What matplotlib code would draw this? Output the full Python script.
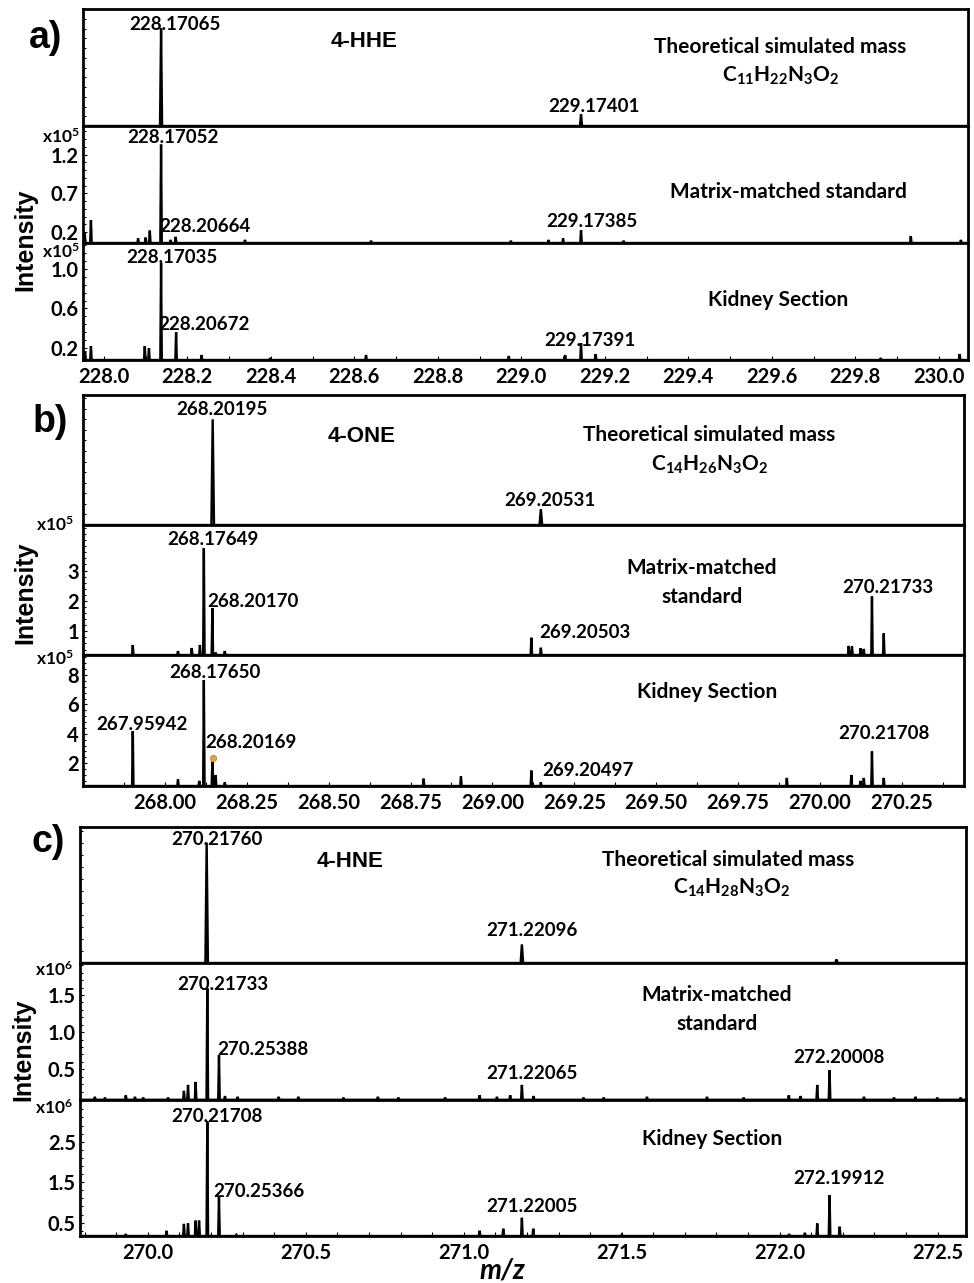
import numpy as np
import matplotlib
matplotlib.use("Agg")
import matplotlib.pyplot as plt
from matplotlib.ticker import AutoMinorLocator, FixedLocator

plt.rcParams['font.family'] = ['Lato', 'DejaVu Sans']
plt.rcParams['font.weight'] = 'bold'
plt.rcParams['mathtext.fontset'] = 'custom'
plt.rcParams['mathtext.rm'] = 'Lato:bold'
plt.rcParams['mathtext.bf'] = 'Lato:bold'
plt.rcParams['mathtext.it'] = 'Lato:bold:italic'

W, H = 974, 1283
fig = plt.figure(figsize=(W / 100, H / 100), dpi=100)

# ---------------- data ----------------
# Panel a (4-HHE)
a_theo_mz = [228.137, 229.143]
a_theo_int = [100, 12]
a_mat_mz = [227.954, 227.969, 228.082, 228.100, 228.110, 228.137, 228.160, 228.172, 228.338,
            228.640, 228.975, 229.065, 229.100, 229.143, 229.245, 229.933, 230.053]
a_mat_int = [0.20, 0.355, 0.12, 0.13, 0.22, 1.33, 0.10, 0.14, 0.10,
             0.09, 0.09, 0.10, 0.12, 0.225, 0.09, 0.15, 0.10]
a_kid_mz = [227.955, 227.969, 228.098, 228.108, 228.137, 228.173, 228.234, 228.398, 228.628,
            228.970, 229.105, 229.143, 229.178, 229.861, 230.050]
a_kid_int = [0.17, 0.22, 0.22, 0.20, 1.06, 0.36, 0.13, 0.10, 0.13,
             0.12, 0.13, 0.25, 0.14, 0.10, 0.14]

# Panel b (4-ONE)
b_theo_mz = [268.146, 269.148]
b_theo_int = [100, 15]
b_mat_mz = [267.902, 268.040, 268.082, 268.107, 268.119, 268.145, 268.155, 268.183,
            269.119, 269.148, 270.088, 270.098, 270.124, 270.134, 270.159, 270.195]
b_mat_int = [0.55, 0.35, 0.45, 0.55, 3.74, 1.76, 0.30, 0.35,
             0.79, 0.46, 0.52, 0.50, 0.44, 0.42, 2.15, 0.93]
b_kid_mz = [267.902, 268.040, 268.105, 268.119, 268.145, 268.155, 268.183, 268.790, 268.904,
            269.119, 269.148, 269.899, 270.096, 270.124, 270.134, 270.159, 270.195]
b_kid_int = [4.18, 0.90, 0.80, 7.66, 2.10, 1.20, 0.70, 0.95, 1.10,
             1.50, 0.70, 1.00, 1.20, 0.80, 1.00, 2.80, 1.00]
b_marker = (268.146, 2.35)

# Panel c (4-HNE)
c_theo_mz = [270.186, 271.184, 272.180]
c_theo_int = [100, 15.5, 3]
c_mat_mz = [269.832, 269.864, 269.930, 269.959, 269.985, 270.064, 270.114, 270.127, 270.151,
            270.188, 270.225, 270.244, 270.284, 270.414, 270.476, 270.619, 270.728, 270.793,
            270.941, 271.050, 271.105, 271.147, 271.184, 271.221, 271.379, 271.443, 271.580,
            271.770, 271.886, 272.029, 272.066, 272.119, 272.158, 272.267, 272.362, 272.430,
            272.499, 272.573]
c_mat_int = [0.13, 0.12, 0.15, 0.13, 0.12, 0.12, 0.21, 0.29, 0.33,
             1.59, 0.69, 0.14, 0.13, 0.13, 0.13, 0.12, 0.13, 0.12,
             0.12, 0.15, 0.13, 0.15, 0.29, 0.14, 0.12, 0.12, 0.13,
             0.13, 0.12, 0.15, 0.14, 0.29, 0.49, 0.13, 0.12, 0.13,
             0.12, 0.12]
c_kid_mz = [269.930, 270.059, 270.114, 270.127, 270.151, 270.162, 270.188, 270.225, 270.280,
            271.050, 271.125, 271.184, 271.220, 271.500, 272.030, 272.080, 272.119, 272.158,
            272.190]
c_kid_int = [0.22, 0.30, 0.47, 0.48, 0.55, 0.55, 3.00, 1.14, 0.20,
             0.30, 0.35, 0.62, 0.35, 0.20, 0.22, 0.25, 0.48, 1.18,
             0.40]

NUM = 13.5      # peak label size
NAME = 15       # sample name size
TICK = 14.5     # tick label size


# ---------------- helpers ----------------
def px_axes(left, top, right, bottom):
    return fig.add_axes([left / W, 1 - bottom / H, (right - left) / W, (bottom - top) / H])


def profile(ax, mz, inten, base, xlim, w):
    order = np.argsort(mz)
    xs = [xlim[0]]
    ys = [base]
    for i in order:
        xs += [mz[i] - w, mz[i], mz[i] + w]
        ys += [base, inten[i], base]
    xs.append(xlim[1])
    ys.append(base)
    ax.plot(xs, ys, color='black', lw=1.7, solid_joinstyle='miter')


def style(ax, xlim, ylim, xticks=None, xfmt='{:.1f}', yticks=None, yfmt='{:.1f}'):
    ax.set_xlim(*xlim)
    ax.set_ylim(*ylim)
    for s in ax.spines.values():
        s.set_linewidth(2.0)
    ax.tick_params(axis='both', which='both', direction='in', length=3, width=0.8,
                   labelsize=TICK, pad=3)
    ax.tick_params(axis='x', which='both', pad=5)
    ax.tick_params(axis='y', which='minor', length=2.5)
    ax.tick_params(top=False, right=False)
    if xticks is not None:
        ax.xaxis.set_major_locator(FixedLocator(xticks))
        ax.set_xticklabels([xfmt.format(t) for t in xticks], fontweight='bold')
        ax.xaxis.set_minor_locator(AutoMinorLocator(2))
    else:
        ax.xaxis.set_minor_locator(AutoMinorLocator(2))
        ax.tick_params(axis='x', which='both', labelbottom=False, length=0)
    if yticks is not None:
        ax.yaxis.set_major_locator(FixedLocator(yticks))
        ax.set_yticklabels([yfmt.format(t) for t in yticks], fontweight='bold')
    else:
        ax.set_yticks([])
    ax.yaxis.set_minor_locator(AutoMinorLocator(5))


def lab(ax, x, yf, s, size=NUM, family=None, **kw):
    kws = dict(transform=ax.get_xaxis_transform(), ha='center', va='center',
               fontsize=size, fontweight='bold')
    if family:
        kws['family'] = family
    kws.update(kw)
    ax.text(x, yf, s, **kws)


def sci(xr, y, p):
    fig.text(xr / W, 1 - y / H, 'x10$^{\\mathbf{' + p + '}}$', ha='right', va='center',
             fontsize=12.5, fontweight='bold')


ARIAL = ['Liberation Sans', 'DejaVu Sans']

# ---------------- panel a ----------------
xa = (227.95, 230.07)
a_ticks = [228.0, 228.2, 228.4, 228.6, 228.8, 229.0, 229.2, 229.4, 229.6, 229.8, 230.0]
ax = px_axes(83, 9, 968, 126)
profile(ax, a_theo_mz, a_theo_int, 0, xa, 0.0025)
style(ax, xa, (0, 120))
ax.yaxis.set_minor_locator(FixedLocator(np.linspace(0, 120, 13)))
lab(ax, 228.170, 0.87, '228.17065')
lab(ax, 228.624, 0.72, '4-HHE', size=16, family=ARIAL)
lab(ax, 229.621, 0.675, 'Theoretical simulated mass', size=NAME)
lab(ax, 229.621, 0.43, 'C$_{\\mathbf{11}}$H$_{\\mathbf{22}}$N$_{\\mathbf{3}}$O$_{\\mathbf{2}}$', size=NAME)
lab(ax, 229.173, 0.17, '229.17401')

ax = px_axes(83, 126, 968, 243)
profile(ax, a_mat_mz, a_mat_int, 0.06, xa, 0.0018)
style(ax, xa, (0.06, 1.57), yticks=[0.2, 0.7, 1.2])
lab(ax, 228.165, 0.90, '228.17052')
lab(ax, 228.242, 0.14, '228.20664')
lab(ax, 229.640, 0.44, 'Matrix-matched standard', size=NAME)
lab(ax, 229.170, 0.18, '229.17385')
sci(80, 137, '5')

ax = px_axes(83, 243, 968, 360)
profile(ax, a_kid_mz, a_kid_int, 0.08, xa, 0.0018)
style(ax, xa, (0.08, 1.26), xticks=a_ticks, yticks=[0.2, 0.6, 1.0])
lab(ax, 228.163, 0.88, '228.17035')
lab(ax, 228.240, 0.30, '228.20672')
lab(ax, 229.616, 0.51, 'Kidney Section', size=NAME)
lab(ax, 229.165, 0.17, '229.17391')
sci(80, 252, '5')

# ---------------- panel b ----------------
xb = (267.75, 270.44)
b_ticks = [268.00, 268.25, 268.50, 268.75, 269.00, 269.25, 269.50, 269.75, 270.00, 270.25]
ax = px_axes(83, 395, 964, 525)
profile(ax, b_theo_mz, b_theo_int, 0, xb, 0.004)
style(ax, xb, (0, 123))
ax.yaxis.set_minor_locator(FixedLocator(np.linspace(0, 120, 13)))
lab(ax, 268.174, 0.89, '268.20195')
lab(ax, 268.601, 0.68, '4-ONE', size=16, family=ARIAL)
lab(ax, 269.662, 0.69, 'Theoretical simulated mass', size=NAME)
lab(ax, 269.662, 0.46, 'C$_{\\mathbf{14}}$H$_{\\mathbf{26}}$N$_{\\mathbf{3}}$O$_{\\mathbf{2}}$', size=NAME)
lab(ax, 269.176, 0.19, '269.20531')

ax = px_axes(83, 525, 964, 655)
profile(ax, b_mat_mz, b_mat_int, 0.22, xb, 0.0022)
style(ax, xb, (0.22, 4.5), yticks=[1, 2, 3], yfmt='{:.0f}')
lab(ax, 268.146, 0.89, '268.17649')
lab(ax, 268.268, 0.41, '268.20170')
lab(ax, 269.639, 0.56, 'Matrix-matched\nstandard', size=NAME, linespacing=1.55)
lab(ax, 270.207, 0.52, '270.21733')
lab(ax, 269.283, 0.17, '269.20503')
sci(74, 525, '5')

ax = px_axes(83, 655, 964, 786)
profile(ax, b_kid_mz, b_kid_int, 0.45, xb, 0.0022)
style(ax, xb, (0.45, 9.36), xticks=b_ticks, xfmt='{:.2f}', yticks=[2, 4, 6, 8], yfmt='{:.0f}')
ax.plot([b_marker[0]], [b_marker[1]], 'o', color='#E3A145', markersize=4.5,
        markeredgecolor='#C8843A', markeredgewidth=0.6)
lab(ax, 268.152, 0.87, '268.17650')
lab(ax, 267.930, 0.47, '267.95942')
lab(ax, 268.264, 0.33, '268.20169')
lab(ax, 269.655, 0.72, 'Kidney Section', size=NAME)
lab(ax, 270.195, 0.40, '270.21708')
lab(ax, 269.293, 0.12, '269.20497')
sci(74, 659, '5')

# ---------------- panel c ----------------
xc = (269.785, 272.59)
c_ticks = [270.0, 270.5, 271.0, 271.5, 272.0, 272.5]
ax = px_axes(80, 827, 966, 963)
profile(ax, c_theo_mz, c_theo_int, 0, xc, 0.004)
style(ax, xc, (0, 113))
ax.yaxis.set_minor_locator(FixedLocator(np.linspace(0, 110, 12)))
lab(ax, 270.219, 0.91, '270.21760')
lab(ax, 270.640, 0.745, '4-HNE', size=16, family=ARIAL)
lab(ax, 271.838, 0.76, 'Theoretical simulated mass', size=NAME)
lab(ax, 271.849, 0.55, 'C$_{\\mathbf{14}}$H$_{\\mathbf{28}}$N$_{\\mathbf{3}}$O$_{\\mathbf{2}}$', size=NAME)
lab(ax, 271.216, 0.24, '271.22096')

ax = px_axes(80, 963, 966, 1100)
profile(ax, c_mat_mz, c_mat_int, 0.09, xc, 0.0025)
style(ax, xc, (0.087, 1.93), yticks=[0.5, 1.0, 1.5])
lab(ax, 270.238, 0.84, '270.21733')
lab(ax, 270.364, 0.37, '270.25388')
lab(ax, 271.802, 0.66, 'Matrix-matched\nstandard', size=NAME, linespacing=1.55)
lab(ax, 271.217, 0.19, '271.22065')
lab(ax, 272.189, 0.31, '272.20008')
sci(73, 970, '6')

ax = px_axes(80, 1100, 966, 1236)
profile(ax, c_kid_mz, c_kid_int, 0.17, xc, 0.0025)
style(ax, xc, (0.17, 3.53), xticks=c_ticks, yticks=[0.5, 1.5, 2.5])
ax.xaxis.set_minor_locator(AutoMinorLocator(5))
lab(ax, 270.219, 0.875, '270.21708')
lab(ax, 270.352, 0.33, '270.25366')
lab(ax, 271.786, 0.71, 'Kidney Section', size=NAME)
lab(ax, 271.216, 0.22, '271.22005')
lab(ax, 272.189, 0.425, '272.19912')
sci(73, 1108, '6')

# ---------------- figure texts ----------------
for (x, y) in [(25, 240), (25, 593), (23, 1050)]:
    fig.text(x / W, 1 - y / H, 'Intensity', rotation=90, ha='center', va='center',
             fontsize=18, fontweight='bold', family=ARIAL)
for (x, y, s) in [(46, 38, 'a)'), (50, 422, 'b)'), (48, 842, 'c)')]:
    fig.text(x / W, 1 - y / H, s, ha='center', va='center', fontsize=27,
             fontweight='bold', family=ARIAL)
fig.text(502 / W, 1 - 1271 / H, 'm/z', ha='center', va='center', fontsize=20,
         fontweight='bold', style='italic')

fig.savefig('out.png', dpi=100)
